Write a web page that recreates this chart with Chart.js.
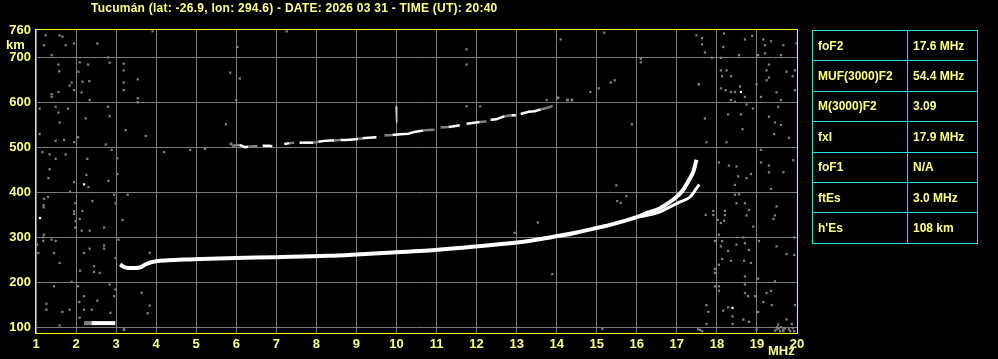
<!DOCTYPE html>
<html>
<head>
<meta charset="utf-8">
<script src="https://cdn.jsdelivr.net/npm/chart.js@4.4.1/dist/chart.umd.min.js"></script>
<style>
  html, body { margin: 0; padding: 0; background: #000; }
  #wrap { position: relative; width: 998px; height: 359px; overflow: hidden; }
  #chart { position: absolute; left: 0; top: 0; }
  .lbl { position: absolute; color: #ffff80; font: bold 12px "Liberation Sans", Arial, sans-serif; white-space: nowrap; }
  #params { position: absolute; left: 812px; top: 30px; border-collapse: collapse; }
  #params td { border: 1px solid #20e0e0; color: #ffff80; font: bold 12px "Liberation Sans", Arial, sans-serif;
               height: 29.4px; padding: 0 0 0 5px; white-space: nowrap; }
  #params td.k { width: 89px; }
  #params td.v { width: 64px; }
</style>
</head>
<body>
<div id="wrap">
  <canvas id="chart" width="998" height="359"></canvas>
  <div class="lbl" id="title" style="left:91px; top:1px; letter-spacing:0.25px;">Tucumán (lat: -26.9, lon: 294.6) - DATE: 2026 03 31 - TIME (UT): 20:40</div>
  <div class="lbl" style="left:6px; top:37px; font-size:13px;">km</div>
  <div class="lbl" style="left:768px; top:343px; font-size:13px;">MHz</div>
  <table id="params">
    <tr><td class="k">foF2</td><td class="v">17.6 MHz</td></tr>
    <tr><td class="k">MUF(3000)F2</td><td class="v">54.4 MHz</td></tr>
    <tr><td class="k">M(3000)F2</td><td class="v">3.09</td></tr>
    <tr><td class="k">fxI</td><td class="v">17.9 MHz</td></tr>
    <tr><td class="k">foF1</td><td class="v">N/A</td></tr>
    <tr><td class="k">ftEs</td><td class="v">3.0 MHz</td></tr>
    <tr><td class="k">h'Es</td><td class="v">108 km</td></tr>
  </table>
</div>
<script>
// axis ticks
const freqTicks = [1, 2, 3, 4, 5, 6, 7, 8, 9, 10, 11, 12, 13, 14, 15, 16, 17, 18, 19, 20];
const heightTicks = [100, 200, 300, 400, 500, 600, 700, 760];

// sporadic E trace (gray start, white body)
const esGrayMHz = [2.2, 2.38];
const esGrayKm = [109, 109];
const esWhiteMHz = [2.38, 2.98];
const esWhiteKm = [109, 109];

// F2 ordinary trace
const oTraceMHz = [3.10, 3.2, 3.3, 3.5, 3.62, 3.72, 3.85, 4.0, 4.3, 4.8, 5.1, 6.0, 7.0, 8.3, 9.0, 10.0, 10.8, 11.65, 12.5, 13.3, 13.7, 14.1, 14.5, 14.9, 15.33, 15.74, 16.0, 16.24, 16.58, 16.83, 16.99, 17.15, 17.33, 17.41, 17.49];
const oTraceKm = [240, 234, 232, 232, 234, 239, 244, 247, 249, 251, 252, 254, 256, 259, 262, 267, 271, 277, 284, 292, 298, 304, 311, 319, 328, 338, 345, 354, 365, 379, 390, 405, 432, 446, 473];

// F2 extraordinary trace
const xTraceMHz = [16.1, 16.4, 16.58, 16.83, 17.08, 17.33, 17.49, 17.56];
const xTraceKm = [346, 352, 357, 368, 379, 390, 409, 418];

// second hop echo, shade per segment: w white, g gray, n gap
const hop2MHz = [5.9, 6.08, 6.22, 6.3, 6.4, 6.53, 6.66, 6.82, 6.9, 7.2, 7.33, 7.45, 7.58, 7.65, 7.8, 7.92, 8.05, 8.2, 8.35, 8.45, 8.6, 8.75, 8.9, 9.05, 9.15, 9.3, 9.5, 9.7, 9.9, 10.1, 10.3, 10.45, 10.66, 10.8, 10.95, 11.1, 11.3, 11.4, 11.58, 11.75, 11.9, 12.08, 12.25, 12.35, 12.49, 12.7, 12.87, 12.98, 13.1, 13.3, 13.45, 13.6, 13.78, 13.9];
const hop2Km = [504, 506, 501, 502, 503, 503, 504, 504, 503, 508, 510, 511, 511, 511, 511, 511, 513, 515, 516, 516, 517, 517, 518, 519, 521, 522, 523, 527, 528, 530, 531, 535, 538, 539, 540, 545, 546, 547, 550, 553, 555, 557, 558, 562, 563, 570, 572, 572, 575, 580, 581, 585, 589, 593];
const hop2Shade = ['g', 'w', 'w', 'g', 'g', 'n', 'w', 'w', 'n', 'w', 'g', 'n', 'w', 'w', 'w', 'g', 'w', 'w', 'w', 'g', 'w', 'w', 'w', 'g', 'w', 'w', 'n', 'g', 'w', 'w', 'w', 'w', 'g', 'g', 'n', 'g', 'w', 'w', 'n', 'w', 'w', 'g', 'n', 'w', 'w', 'g', 'w', 'n', 'w', 'w', 'w', 'g', 'g', 'g'];
const spikeMHz = [9.99, 10.01, 10.0];
const spikeKm = [592, 572, 555];
const hop2GrayMHz = [14.03, 14.27, 14.38, 5.87];
const hop2GrayKm = [611, 606, 606, 508];

// scattered noise echoes
const noiseMHz = [
  1.24, 1.59, 1.66, 1.2, 1.74, 1.95, 2.53, 1.39, 2.8, 1.56, 2.09, 2.3, 2.84, 1.58, 2.06, 1.89, 2.16, 2.33, 1.84, 1.95,
  1.56, 2.14, 1.39, 1.39, 2.34, 1.09, 1.49, 1.8, 2.8, 1.56, 2.24, 2.84, 1.59, 1.09, 1.49, 1.7, 1.95, 2.05, 2.74, 1.16,
  1.34, 1.49, 1.74, 2.28, 2.89, 3.03, 1.34, 2.26, 3.03, 1.31, 1.95, 2.31, 2.81, 1.85, 1.2, 1.3, 1.98, 2.41, 2.95, 2.99,
  3.29, 1.19, 1.19, 1.95, 1.95, 2.16, 2.09, 1.99, 3.16, 1.98, 2.14, 2.34, 2.7, 1.2, 1.18, 1.18, 1.39, 1.49, 3.06, 1.03,
  2.34, 2.7, 2.7, 1.06, 1.45, 2.2, 2.99, 1.59, 2.45, 2.1, 2.59, 2.45, 1.89, 1.45, 2.05, 2.84, 2.98, 1.26, 2.08, 2.2,
  2.53, 2.95, 1.26, 1.66, 1.84, 2.2, 2.39, 2.86, 2.09, 1.59, 3.2,
  17.49, 17.63, 17.63, 18.18, 18.7, 18.88, 19.16, 19.35, 19.2, 19.66, 19.99, 18.16, 17.7, 18.55, 19.03, 19.2, 19.6, 17.88, 18.1, 19.3,
  18.1, 18.24, 19.24, 19.74, 19.95, 18.13, 18.35, 19.3, 19.89, 19.24, 17.55, 18.99, 18.1, 18.22, 18.35, 18.45, 18.58, 19.95, 19.49, 18.7,
  19.1, 18.35, 18.45, 19.6, 18.74, 18.9, 19.53, 18.28, 18.6, 17.7, 19.3, 19.45, 19.6, 18.64, 19.43, 19.8, 17.74, 18.24, 19.1, 19.91,
  19.1, 18.05, 18.3, 18.49, 19.3, 19.3, 19.66, 18.53, 18.74, 18.85, 18.45, 19.35, 18.45, 18.55, 18.49, 18.7, 19.49, 18.8, 17.72, 17.91,
  17.91, 18.2, 18.2, 18.74, 19.45, 19.41, 18.02, 18.1, 18.18, 18.91, 19.93, 18.05, 17.95, 18.13, 18.66, 19.05, 18.7, 18.49, 18.1, 18.8,
  18.28, 19.49, 19.74, 19.93, 18.13, 18.35, 18.68, 18.85, 18.05, 17.95, 17.95, 18.7, 19.03, 19.45, 17.95, 18.05, 18.7, 18.05, 19.35, 18.7,
  18.78, 18.95, 19.24, 19.16, 19.37, 19.95, 17.74, 18.28, 17.79, 18.16, 19.03, 18.39, 18.66, 18.8, 19.74, 17.74, 18.39, 19.53, 19.87, 17.53,
  17.63, 18.99, 19.49, 19.58, 19.66, 19.83, 19.93, 19.5, 19.55, 19.6, 19.65, 19.7, 19.8, 19.9, 19.45,
  3.91, 7.26, 15.19, 14.1, 6.03, 11.75, 3.19, 5.85, 11.75, 16.1, 16.1, 3.19, 3.54, 6.09, 3.19, 3.19, 15.45, 15.35, 15.05, 14.84,
  17.55, 3.54, 3.54, 6.0, 11.75, 12.09, 13.75, 3.24, 3.74, 5.74, 15.88, 4.2, 4.85, 5.22, 3.64, 3.84, 3.79, 3.19, 3.84, 15.49,
  15.74, 15.51, 15.6, 13.53, 12.95, 13.89, 15.14, 17.58
];
const noiseKm = [
  750, 750, 747, 728, 728, 732, 732, 706, 701, 685, 690, 685, 689, 670, 669, 645, 647, 648, 638, 628,
  624, 623, 613, 619, 606, 587, 591, 587, 591, 578, 565, 570, 556, 530, 515, 517, 512, 523, 507, 490,
  485, 475, 485, 475, 495, 476, 452, 439, 441, 432, 423, 412, 426, 402, 386, 390, 376, 381, 395, 376,
  395, 372, 367, 358, 352, 359, 341, 336, 339, 322, 315, 315, 322, 306, 300, 292, 295, 292, 295, 284,
  275, 282, 275, 265, 265, 265, 254, 243, 236, 226, 221, 223, 201, 191, 191, 195, 184, 152, 156, 169,
  159, 169, 139, 134, 139, 139, 139, 132, 121, 104, 95,
  750, 744, 730, 754, 741, 749, 741, 737, 728, 728, 732, 724, 712, 706, 706, 710, 706, 700, 700, 685,
  672, 672, 672, 669, 672, 659, 659, 656, 659, 650, 641, 641, 632, 628, 624, 624, 636, 628, 623, 613,
  613, 606, 602, 606, 596, 587, 591, 574, 574, 565, 569, 556, 550, 541, 530, 522, 512, 512, 495, 472,
  467, 467, 460, 458, 460, 445, 445, 436, 432, 441, 417, 408, 395, 396, 376, 376, 369, 361, 350, 359,
  350, 359, 350, 349, 349, 341, 339, 332, 337, 324, 300, 306, 292, 292, 300, 292, 287, 284, 280, 272,
  270, 280, 263, 261, 252, 248, 248, 243, 239, 230, 221, 213, 208, 202, 191, 191, 195, 181, 181, 176,
  169, 169, 176, 156, 149, 149, 149, 144, 134, 137, 134, 124, 117, 112, 117, 107, 107, 106, 107, 95,
  91, 95, 95, 91, 91, 91, 91, 100, 97, 100, 95, 97, 95, 98, 92,
  759, 759, 756, 741, 724, 719, 687, 667, 685, 698, 690, 672, 652, 654, 645, 628, 650, 645, 632, 624,
  641, 610, 601, 606, 592, 592, 606, 539, 526, 552, 552, 490, 495, 497, 177, 148, 131, 94, 266, 416,
  392, 381, 377, 333, 310, 218, 96, 94
];
const noiseWhiteMHz = [2.2, 1.1, 18.6, 18.39];
const noiseWhiteKm = [418, 343, 624, 143];

const pairs = (xs, ys) => xs.map((x, i) => ({ x: x, y: ys[i] }));

const GRID = '#7c7c7c';
const ECHO_GRAY = '#808080';
const TEXT = '#ffff80';
const SHADE = { w: '#ffffff', g: ECHO_GRAY, n: 'rgba(0,0,0,0)' };

const frameBorder = {
    id: 'frameBorder',
    afterDraw(chart) {
        const a = chart.chartArea;
        const ctx = chart.ctx;
        ctx.save();
        ctx.strokeStyle = '#ffff00';
        ctx.lineWidth = 1;
        ctx.strokeRect(Math.round(a.left) - 0.5, Math.round(a.top) - 0.5,
            Math.round(a.right - a.left) + 1, Math.round(a.bottom - a.top) + 1);
        ctx.restore();
    }
};

const dotSet = (label, xs, ys, color, r) => ({
    label: label,
    data: pairs(xs, ys),
    showLine: false,
    pointStyle: 'rect',
    pointRadius: r,
    pointBackgroundColor: color,
    pointBorderWidth: 0,
    order: 3
});

const lineSet = (label, xs, ys, color, w, smooth) => ({
    label: label,
    data: pairs(xs, ys),
    showLine: true,
    borderColor: color,
    borderWidth: w,
    pointRadius: 0,
    cubicInterpolationMode: smooth ? 'monotone' : 'default',
    tension: 0,
    borderCapStyle: 'butt',
    order: 1
});

const hop2Line = lineSet('2F', hop2MHz, hop2Km, ECHO_GRAY, 2.5, false);
hop2Line.segment = { borderColor: (ctx) => SHADE[hop2Shade[ctx.p0DataIndex]] };
hop2Line.order = 2;

new Chart(document.getElementById('chart'), {
    type: 'scatter',
    data: {
        datasets: [
            dotSet('noise', noiseMHz, noiseKm, ECHO_GRAY, 1.6),
            dotSet('noise white', noiseWhiteMHz, noiseWhiteKm, '#ffffff', 1.6),
            dotSet('2F gray', hop2GrayMHz, hop2GrayKm, ECHO_GRAY, 2),
            hop2Line,
            lineSet('2F spike', spikeMHz, spikeKm, '#d0d0d0', 1.5, false),
            lineSet('Es gray', esGrayMHz, esGrayKm, ECHO_GRAY, 4, false),
            lineSet('Es', esWhiteMHz, esWhiteKm, '#ffffff', 4, false),
            lineSet('F2 x', xTraceMHz, xTraceKm, '#ffffff', 3, true),
            lineSet('F2 o', oTraceMHz, oTraceKm, '#ffffff', 4, true)
        ]
    },
    options: {
        responsive: false,
        animation: false,
        devicePixelRatio: 1,
        layout: { padding: { top: 30, right: 201, bottom: 0, left: 0 } },
        plugins: {
            legend: { display: false },
            tooltip: { enabled: false }
        },
        scales: {
            x: {
                type: 'linear',
                min: 1,
                max: 20,
                afterBuildTicks: (scale) => { scale.ticks = freqTicks.map(v => ({ value: v })); },
                afterFit: (scale) => { scale.height = 26; },
                grid: { color: GRID, lineWidth: 1, drawTicks: false },
                border: { display: false },
                ticks: {
                    color: TEXT,
                    padding: 4,
                    maxRotation: 0,
                    autoSkip: false,
                    font: { family: 'Liberation Sans', size: 13, weight: 'bold' }
                }
            },
            y: {
                type: 'linear',
                min: 87,
                max: 762,
                afterBuildTicks: (scale) => { scale.ticks = heightTicks.map(v => ({ value: v })); },
                afterFit: (scale) => { scale.width = 36; },
                grid: {
                    color: (ctx) => (ctx.tick && ctx.tick.value === 760 ? 'rgba(0,0,0,0)' : GRID),
                    lineWidth: 1,
                    drawTicks: false
                },
                border: { display: false },
                ticks: {
                    color: TEXT,
                    padding: 5,
                    autoSkip: false,
                    font: { family: 'Liberation Sans', size: 13, weight: 'bold' }
                }
            }
        }
    },
    plugins: [frameBorder]
});
</script>
</body>
</html>
